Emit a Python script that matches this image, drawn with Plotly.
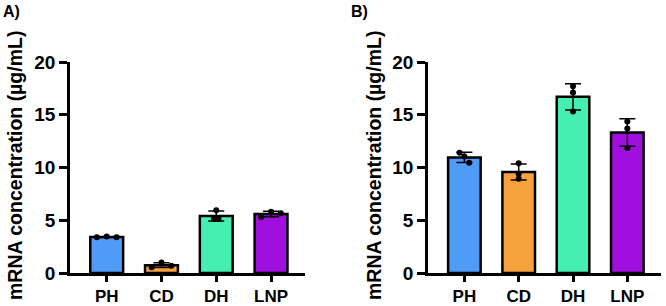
import numpy as np
import plotly.graph_objects as go

categories = ["PH", "CD", "DH", "LNP"]
colors = ["#4F9CF7", "#F8A23E", "#45EFB1", "#A00EE0"]

# Panel A replicates (µg/mL)
a_rep1 = [3.38, 0.55, 5.12, 5.30]
a_rep2 = [3.45, 1.00, 5.95, 5.81]
a_rep3 = [3.40, 0.68, 5.12, 5.66]

# Panel B replicates (µg/mL)
b_rep1 = [11.39, 10.40, 17.70, 14.37]
b_rep2 = [10.44, 9.40, 17.10, 13.70]
b_rep3 = [11.04, 8.93, 15.30, 11.86]

y_ticks = [0, 5, 10, 15, 20]

# horizontal jitter of replicate dots (position style)
jit_a = [[-0.18, 0.0, 0.18], [-0.18, 0.0, 0.18], [-0.04, 0.0, 0.04], [-0.18, 0.0, 0.18]]
jit_b = [[-0.09, 0.09, 0.0], [0.0, 0.0, 0.0], [0.0, 0.0, 0.0], [0.0, 0.0, 0.0]]

FONT = "Liberation Sans, Arial, sans-serif"
W, H = 666, 306

fig = go.Figure()


def add_panel(reps, jit, xa, ya):
    arr = np.array(reps)  # 3 x 4
    means = arr.mean(axis=0)
    sds = arr.std(axis=0, ddof=1)
    xs = list(range(len(categories)))
    fig.add_trace(go.Bar(
        x=xs, y=means, width=0.6,
        marker=dict(color=colors, line=dict(color="black", width=2.5)),
        error_y=dict(type="data", array=sds, visible=True, color="black",
                     thickness=1.5, width=8),
        xaxis=xa, yaxis=ya, showlegend=False,
    ))
    px, py = [], []
    for i in range(len(categories)):
        for r in range(3):
            px.append(i + jit[i][r])
            py.append(reps[r][i])
    fig.add_trace(go.Scatter(
        x=px, y=py, mode="markers",
        marker=dict(color="black", size=6),
        xaxis=xa, yaxis=ya, showlegend=False, cliponaxis=False,
    ))


add_panel([a_rep1, a_rep2, a_rep3], jit_a, "x", "y")
add_panel([b_rep1, b_rep2, b_rep3], jit_b, "x2", "y2")

ydom = [1 - 273 / H, 1 - 62 / H]
common_x = dict(
    tickmode="array", tickvals=list(range(len(categories))), ticktext=categories,
    range=[-0.67, 3.62], showline=True, linecolor="black", linewidth=2.5,
    ticks="outside", ticklen=6, tickwidth=2.5, tickcolor="black",
    ticklabelstandoff=0, automargin=False,
    tickfont=dict(family=FONT, size=17, color="black", weight="bold"),
    showgrid=False, zeroline=False, fixedrange=True,
)
common_y = dict(
    range=[0, 20], tickmode="array", tickvals=y_ticks,
    showline=True, linecolor="black", linewidth=2.5,
    ticks="outside", ticklen=8, tickwidth=2.5, tickcolor="black",
    automargin=False,
    tickfont=dict(family=FONT, size=19, color="black", weight="bold"),
    showgrid=False, zeroline=False, domain=ydom,
)

fig.update_layout(
    width=W, height=H, margin=dict(l=0, r=0, t=0, b=0, autoexpand=False),
    paper_bgcolor="white", plot_bgcolor="white",
    bargap=0.4,
    xaxis=dict(domain=[70 / W, 305 / W], anchor="y", **common_x),
    yaxis=dict(anchor="x", **common_y),
    xaxis2=dict(domain=[428 / W, 661 / W], anchor="y2", **common_x),
    yaxis2=dict(anchor="x2", **common_y),
    annotations=[
        dict(text="A)", x=1 / W, y=1 - 1 / H, xref="paper", yref="paper",
             xanchor="left", yanchor="top", showarrow=False,
             font=dict(family=FONT, size=16, color="black", weight="bold")),
        dict(text="B)", x=349 / W, y=1 - 1 / H, xref="paper", yref="paper",
             xanchor="left", yanchor="top", showarrow=False,
             font=dict(family=FONT, size=16, color="black", weight="bold")),
        dict(text="mRNA concentration (µg/mL)", x=15 / W, y=1 - 166 / H,
             xref="paper", yref="paper", xanchor="center", yanchor="middle",
             textangle=-90, showarrow=False,
             font=dict(family=FONT, size=19.5, color="black", weight="bold")),
        dict(text="mRNA concentration (µg/mL)", x=374 / W, y=1 - 166 / H,
             xref="paper", yref="paper", xanchor="center", yanchor="middle",
             textangle=-90, showarrow=False,
             font=dict(family=FONT, size=19.5, color="black", weight="bold")),
    ],
)

fig.write_html("out.html")
